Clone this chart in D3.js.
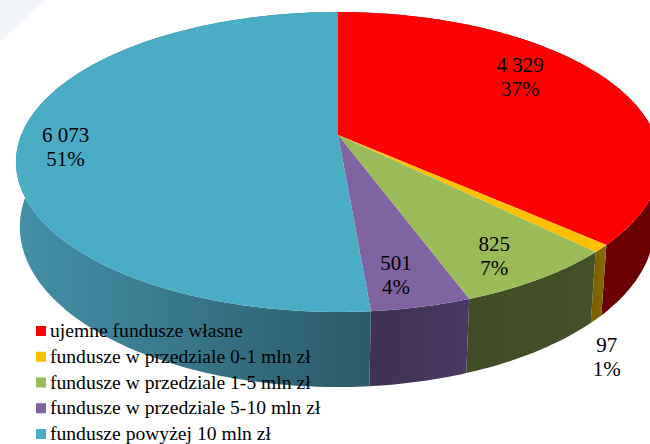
<!DOCTYPE html>
<meta charset="utf-8">
<style>
  html, body { margin: 0; background: #fff; }
  svg { display: block; }
  text { font-family: "Liberation Serif", serif; fill: #000; }
</style>
<script src="https://cdn.jsdelivr.net/npm/d3@7"></script>
<div id="chart"></div>
<script>
// chart data
var categories = ["ujemne fundusze własne", "fundusze w przedziale 0-1 mln zł", "fundusze w przedziale 1-5 mln zł", "fundusze w przedziale 5-10 mln zł", "fundusze powyżej 10 mln zł"];
var values = [4329, 97, 825, 501, 6073];
var valueLabels = ["4 329", "97", "825", "501", "6 073"];
var percentLabels = ["37%", "1%", "7%", "4%", "51%"];
var topColors = ["#ff0000", "#ffc000", "#9bbb59", "#8064a2", "#4bacc6"];
var sideFrom = ["#6e0000", "#8a6a00", "#455228", "#483863", "#4390a8"];
var sideTo = ["#6a0000", "#7d6000", "#404c24", "#3f3152", "#2b5a6a"];

var width = 650, height = 444;
var svg = d3.select("#chart").append("svg").attr("width", width).attr("height", height);

// faint page corner in the scan
svg.append("path").attr("d", d3.line()([[0, 0], [45, 0], [0, 42]])).attr("fill", "#f0f3f8");

// perspective disc: the apex sits above the middle of the ellipse
var k = 0.18;
var topDisc = {cx: 338, cy: 135, rx: 316.8, ry: 145.1};
var bottomDisc = {cx: 337, cy: 198, rx: 312, ry: 155};

function project(disc, a) {
  var u = Math.sin(a), v = -Math.cos(a), w = 1 - k * v;
  return [disc.cx + disc.rx * u / w, disc.cy + disc.ry * v / w];
}
function rim(disc, a0, a1) {
  var n = Math.max(2, Math.ceil((a1 - a0) * 60));
  return d3.range(n + 1).map(function(i) { return project(disc, a0 + (a1 - a0) * i / n); });
}

var arcs = d3.pie().sort(null)(values);
var line = d3.line();
var defs = svg.append("defs");

// side walls first, the top face covers whatever is behind it
// each wall is a run of small quads so the left silhouette comes out straight
arcs.forEach(function(d, i) {
  var from = project(topDisc, d.startAngle)[0], to = project(topDisc, d.endAngle)[0];
  var grad = defs.append("linearGradient")
    .attr("id", "side" + i)
    .attr("gradientUnits", "userSpaceOnUse")
    .attr("x1", i == 4 ? 16 : from).attr("x2", i == 4 ? 370 : to).attr("y1", 0).attr("y2", 0);
  grad.append("stop").attr("offset", 0).attr("stop-color", sideFrom[i]);
  grad.append("stop").attr("offset", 1).attr("stop-color", sideTo[i]);
  var a = rim(topDisc, d.startAngle, d.endAngle), b = rim(bottomDisc, d.startAngle, d.endAngle);
  var path = "";
  for (var j = 0; j < a.length - 1; j++) {
    path += line([a[j], a[j + 1], b[j + 1], b[j]]) + "Z";
  }
  svg.append("path").attr("d", path).attr("fill", "url(#side" + i + ")");
});

arcs.forEach(function(d, i) {
  var pts = [[topDisc.cx, topDisc.cy]].concat(rim(topDisc, d.startAngle, d.endAngle));
  svg.append("path").attr("d", line(pts) + "Z").attr("fill", topColors[i]);
});

// data labels: start from the slice's mid angle, then nudge by hand
var labelRadius = [0.68, 1.2, 0.7, 0.72, 0.87];
var labelDx = [-1, -47, 15, -2, 5];
var labelDy = [-25, 81, 15, 11, 2];
arcs.forEach(function(d, i) {
  var a = (d.startAngle + d.endAngle) / 2;
  var disc = {cx: topDisc.cx, cy: topDisc.cy, rx: topDisc.rx * labelRadius[i], ry: topDisc.ry * labelRadius[i]};
  var p = project(disc, a);
  var t = svg.append("text").attr("text-anchor", "middle").attr("font-size", 21);
  t.append("tspan").attr("x", p[0] + labelDx[i]).attr("y", p[1] + labelDy[i]).text(valueLabels[i]);
  t.append("tspan").attr("x", p[0] + labelDx[i]).attr("y", p[1] + labelDy[i] + 24).text(percentLabels[i]);
});

// legend
var legendY = d3.scalePoint().domain(categories).range([337, 440]);
var legend = svg.selectAll(".legend").data(categories).enter().append("g").attr("class", "legend");
legend.append("rect")
  .attr("x", 36).attr("y", function(d) { return legendY(d) - 11; })
  .attr("width", 10).attr("height", 10)
  .attr("fill", function(d, i) { return topColors[i]; });
legend.append("text")
  .attr("x", 50).attr("y", function(d) { return legendY(d); })
  .attr("font-size", 19.6)
  .text(function(d) { return d; });
</script>
